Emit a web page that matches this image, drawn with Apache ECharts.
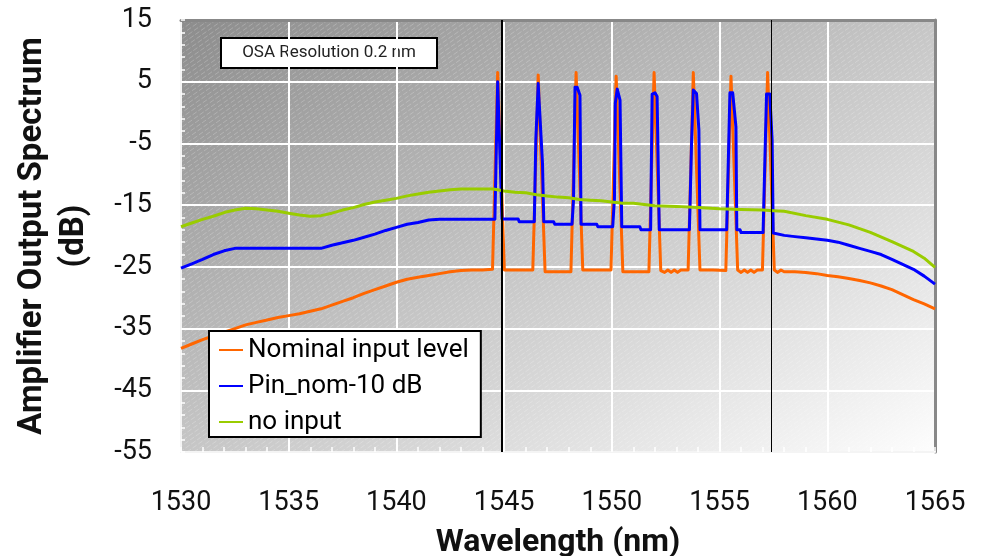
<!DOCTYPE html>
<html>
<head>
<meta charset="utf-8">
<script src="https://cdn.jsdelivr.net/npm/echarts@6/dist/echarts.min.js"></script>
<style>
html,body{margin:0;padding:0;background:#fff;}
#chart{width:983px;height:556px;}
</style>
</head>
<body>
<div id="chart"></div>
<script>
// ---------------- data ----------------
const seriesNames = ['Nominal input level', 'Pin_nom-10 dB', 'no input'];
const xTicks = [1530, 1535, 1540, 1545, 1550, 1555, 1560, 1565];
const yTicks = [-55, -45, -35, -25, -15, -5, 5, 15];
const markerWl = [1544.87, 1557.4];

const nominalWl = [1530.0,1530.5,1531.0,1531.5,1532.0,1532.5,1533.0,1533.5,1534.0,1534.5,1535.0,1535.5,1536.0,1536.5,1537.0,1537.5,1538.0,1538.5,1539.0,1539.5,1540.0,1540.5,1541.0,1541.5,1542.0,1542.5,1543.0,1543.5,1544.0,
  1544.46,1544.70,1544.77,1545.01,1545.5,
  1546.33,1546.58,1546.65,1546.90,1547.5,
  1548.10,1548.34,1548.41,1548.65,1549.3,
  1549.96,1550.20,1550.27,1550.51,1551.1,
  1551.72,1551.96,1552.03,1552.27,1552.45,1552.6,1552.75,1552.9,1553.05,1553.2,
  1553.54,1553.78,1553.85,1554.09,1554.7,
  1555.29,1555.53,1555.60,1555.84,1556.0,1556.15,1556.3,1556.45,1556.6,1556.75,
  1556.99,1557.23,1557.30,1557.54,1557.7,1557.85,1558.0,1558.5,1559.0,1559.5,1560.0,1560.5,1561.0,1561.5,1562.0,1562.5,1563.0,1563.5,1564.0,1564.5,1565.0];
const nominalDb = [-38.2,-37.5,-36.8,-36.2,-35.6,-35.0,-34.4,-34.0,-33.6,-33.2,-32.9,-32.6,-32.2,-31.8,-31.2,-30.6,-30.0,-29.3,-28.7,-28.1,-27.5,-27.0,-26.7,-26.4,-26.1,-25.8,-25.6,-25.5,-25.5,
  -25.4,6.5,6.5,-25.5,-25.5,
  -25.5,6.1,6.1,-25.8,-25.8,
  -25.8,6.5,6.5,-25.5,-25.5,
  -25.5,5.9,5.9,-25.8,-25.8,
  -25.8,6.5,6.5,-25.6,-25.9,-25.5,-25.9,-25.5,-25.9,-25.5,
  -25.5,6.5,6.5,-25.5,-25.5,
  -25.6,5.9,5.9,-25.5,-25.9,-25.5,-25.9,-25.5,-25.9,-25.5,
  -25.5,6.5,6.5,-25.5,-25.9,-25.5,-25.8,-25.8,-25.9,-26.1,-26.4,-26.6,-26.9,-27.2,-27.6,-28.1,-28.7,-29.5,-30.3,-31.0,-31.8];

const pinWl = [1530.0,1530.5,1531.0,1531.5,1532.0,1532.5,1536.5,1537.0,1537.5,1538.0,1538.5,1539.0,1539.5,1540.0,1540.5,1541.0,1541.5,1542.0,
  1544.57,1544.70,1544.76,1544.90,1545.65,1545.70,
  1546.40,1546.47,1546.58,1546.66,1546.78,1546.84,1547.30,1547.35,
  1548.15,1548.22,1548.29,1548.39,1548.52,1548.57,1549.30,1549.35,
  1550.04,1550.12,1550.16,1550.25,1550.38,1550.46,1551.30,1551.35,
  1551.80,1551.87,1552.00,1552.10,1552.20,
  1553.60,1553.70,1553.78,1553.93,1554.04,1554.09,
  1555.33,1555.48,1555.61,1555.76,1555.80,1555.95,1556.00,
  1557.02,1557.18,1557.33,1557.44,1557.49,
  1558.0,1558.5,1559.0,1559.5,1560.0,1560.5,1561.0,1561.5,1562.0,1562.5,1563.0,1563.5,1564.0,1564.5,1565.0];
const pinDb = [-25.2,-24.5,-23.8,-23.0,-22.4,-22.0,-22.0,-21.5,-21.1,-20.7,-20.2,-19.7,-19.1,-18.6,-18.1,-17.8,-17.4,-17.3,
  -17.3,5.0,5.0,-17.25,-17.25,-17.7,
  -17.7,-4.5,4.7,4.7,-8.2,-17.7,-17.7,-18.1,
  -18.1,-14.2,4.1,4.1,2.8,-18.1,-18.1,-18.5,
  -18.5,-14.0,1.5,3.8,2.0,-18.5,-18.5,-19.0,
  -19.0,3.0,3.2,2.6,-19.0,
  -19.0,-4.9,3.65,3.1,-2.8,-19.0,
  -19.0,3.2,3.2,-2.3,-19.0,-19.0,-19.45,
  -19.45,3.0,3.0,-4.45,-19.5,
  -19.9,-20.1,-20.3,-20.5,-20.7,-21.0,-21.5,-22.0,-22.5,-23.0,-23.8,-24.6,-25.4,-26.5,-27.8];

const noInputWl = [1530.0,1530.5,1531.0,1531.5,1532.0,1532.5,1533.0,1533.5,1534.0,1534.5,1535.0,1535.5,1536.0,1536.5,1537.0,1537.5,1538.0,1538.5,1539.0,1539.5,1540.0,1540.5,1541.0,1541.5,1542.0,1542.5,1543.0,1543.5,1544.0,1544.5,
  1545.0,1545.5,1546.0,1546.5,1547.0,1547.5,1548.0,1548.5,1549.0,1549.5,1550.0,1550.5,1551.0,1551.5,1552.0,1553.0,1554.0,1555.0,1556.0,1557.0,1557.5,1558.0,1559.0,1560.0,1561.0,1562.0,1563.0,1564.0,1564.5,1565.0];
const noInputDb = [-18.5,-17.9,-17.3,-16.8,-16.2,-15.8,-15.5,-15.6,-15.8,-16.0,-16.3,-16.6,-16.8,-16.7,-16.3,-15.8,-15.4,-14.9,-14.5,-14.2,-13.9,-13.5,-13.2,-12.9,-12.7,-12.5,-12.4,-12.4,-12.4,-12.4,
  -12.7,-12.9,-13.0,-13.3,-13.5,-13.7,-13.8,-14.1,-14.2,-14.3,-14.5,-14.7,-14.7,-14.9,-15.1,-15.2,-15.4,-15.6,-15.7,-15.8,-15.9,-16.0,-16.7,-17.3,-18.2,-19.4,-20.9,-22.5,-23.6,-25.1];

const seriesColors = ['#ff6600', '#0000ff', '#99cc00'];

// ---------------- layout ----------------
const GL = 181, GT = 20, GW = 754, GH = 432;
const FONT = 'Roboto, "Noto Sans", sans-serif';

function pairs(xs, ys) { return xs.map((x, i) => [x, ys[i]]); }

function makeBackground() {
  const c = document.createElement('canvas');
  c.width = 983; c.height = 556;
  const g = c.getContext('2d');
  g.save();
  g.translate(GL, GT);
  g.scale(GW, GH);
  const grad = g.createLinearGradient(0, 0, 1, 1);
  grad.addColorStop(0, '#8c8c8c');
  grad.addColorStop(0.5, '#c6c6c6');
  grad.addColorStop(1, '#fdfdfd');
  g.fillStyle = grad;
  g.fillRect(0, 0, 1, 1);
  g.restore();
  g.save();
  g.beginPath(); g.rect(GL, GT, GW, GH); g.clip();
  g.strokeStyle = 'rgba(255,255,255,0.22)';
  g.lineWidth = 1;
  g.setLineDash([5, 2]);
  const slope = 0.7;
  for (let k = -GH / slope; k < GW + 10; k += 7) {
    g.beginPath();
    g.moveTo(GL + k, GT + GH);
    g.lineTo(GL + k + GH / slope, GT);
    g.stroke();
  }
  g.restore();
  return c;
}

const chart = echarts.init(document.getElementById('chart'), null, { renderer: 'canvas' });

const lineSeries = [
  { name: seriesNames[0], data: pairs(nominalWl, nominalDb), color: seriesColors[0] },
  { name: seriesNames[1], data: pairs(pinWl, pinDb), color: seriesColors[1] },
  { name: seriesNames[2], data: pairs(noInputWl, noInputDb), color: seriesColors[2] }
].map((s, i) => ({
  type: 'line',
  name: s.name,
  data: s.data,
  showSymbol: false,
  symbol: 'none',
  color: s.color,
  lineStyle: { color: s.color, width: 3, join: 'round' },
  z: 2 + i,
  animation: false
}));

lineSeries[2].markLine = {
  silent: true,
  symbol: 'none',
  label: { show: false },
  animation: false,
  data: markerWl.map((w, i) => ({ xAxis: w, lineStyle: { color: '#000', width: i === 0 ? 2 : 1, type: 'solid' } }))
};

const option = {
  animation: false,
  backgroundColor: '#ffffff',
  grid: {
    left: GL, top: GT, width: GW, height: GH,
    outerBoundsMode: 'none',
    containLabel: false,
    show: true,
    backgroundColor: { image: makeBackground(), repeat: 'no-repeat' },
    borderWidth: 0
  },
  legend: {
    orient: 'vertical',
    left: 209, top: 331,
    data: seriesNames,
    icon: 'rect',
    itemWidth: 24, itemHeight: 2,
    itemGap: 6,
    padding: [4, 12, 0, 10],
    backgroundColor: '#ffffff',
    borderColor: '#000000',
    borderWidth: 2,
    textStyle: { fontSize: 26, color: '#000', fontFamily: FONT, lineHeight: 30 },
    selectedMode: false
  },
  xAxis: [{
    type: 'value',
    min: xTicks[0], max: xTicks[xTicks.length - 1], interval: 5,
    name: 'Wavelength (nm)',
    nameLocation: 'middle',
    nameGap: 75,
    nameTextStyle: { fontSize: 32, fontWeight: 'bold', color: '#111', fontFamily: FONT },
    axisLine: { show: true, onZero: false, lineStyle: { color: '#f4f4f4', width: 2 } },
    axisTick: { show: true, inside: true, length: 5, lineStyle: { color: '#ffffff', width: 1.5 } },
    minorTick: { show: true, splitNumber: 5, length: 5, lineStyle: { color: '#ffffff', width: 1.5 } },
    axisLabel: { fontSize: 27, color: '#111', fontFamily: FONT, margin: 38, formatter: v => String(v) },
    splitLine: { show: true, lineStyle: { color: '#ffffff', width: 2 } }
  }, {
    type: 'value', position: 'top',
    min: xTicks[0], max: xTicks[xTicks.length - 1], interval: 5,
    axisLine: { show: true, onZero: false, lineStyle: { color: '#888888', width: 3 } },
    axisTick: { show: false }, axisLabel: { show: false }, splitLine: { show: false }
  }],
  yAxis: [{
    type: 'value',
    min: yTicks[0], max: yTicks[yTicks.length - 1], interval: 10,
    name: 'Amplifier Output Spectrum\n(dB)',
    nameLocation: 'middle',
    nameRotate: 90,
    nameGap: 85,
    nameTextStyle: { fontSize: 33, fontWeight: 'bold', color: '#111', fontFamily: FONT, lineHeight: 42, align: 'center' },
    axisLine: { show: true, onZero: false, lineStyle: { color: '#f4f4f4', width: 2 } },
    axisTick: { show: true, inside: true, length: 4, lineStyle: { color: '#ffffff', width: 1.5 } },
    minorTick: { show: true, splitNumber: 5, length: 4, lineStyle: { color: '#ffffff', width: 1.5 } },
    axisLabel: { fontSize: 27, color: '#111', fontFamily: FONT, margin: 29, padding: [4, 0, 0, 0] },
    splitLine: { show: true, lineStyle: { color: '#ffffff', width: 2 } }
  }, {
    type: 'value', position: 'right',
    min: yTicks[0], max: yTicks[yTicks.length - 1], interval: 10,
    axisLine: { show: true, onZero: false, lineStyle: { color: '#888888', width: 3 } },
    axisTick: { show: false }, axisLabel: { show: false }, splitLine: { show: false }
  }],
  graphic: [{
    type: 'group',
    left: 220, top: 37,
    z: 10,
    children: [
      { type: 'rect', shape: { x: 0, y: 0, width: 216, height: 30 }, style: { fill: '#ffffff', stroke: '#000000', lineWidth: 2 } },
      { type: 'text', x: 108, y: 15, style: { text: 'OSA Resolution 0.2 nm', fill: '#222', font: '17px Roboto, sans-serif', align: 'center', verticalAlign: 'middle' } }
    ]
  }],
  series: lineSeries
};

chart.setOption(option);
</script>
</body>
</html>
